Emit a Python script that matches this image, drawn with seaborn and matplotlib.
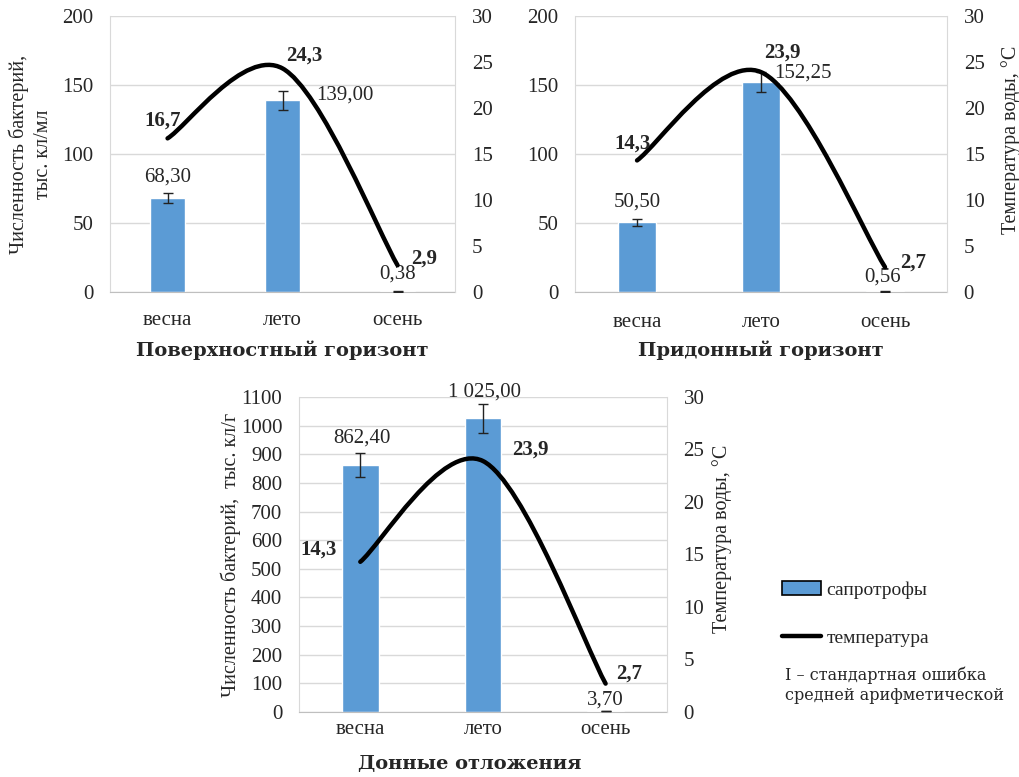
import matplotlib
matplotlib.use("Agg")
import matplotlib.pyplot as plt
from matplotlib.path import Path
from matplotlib.patches import PathPatch, Patch
from matplotlib.lines import Line2D
import seaborn as sns

# данные по сезонам
seasons = ["весна", "лето", "осень"]

surface_counts = [68.30, 139.00, 0.38]
surface_err = [3.5, 7.0, 0.3]
surface_temp = [16.7, 24.3, 2.9]

bottom_counts = [50.50, 152.25, 0.56]
bottom_err = [2.5, 7.5, 0.3]
bottom_temp = [14.3, 23.9, 2.7]

sediment_counts = [862.40, 1025.00, 3.70]
sediment_err = [43.0, 50.0, 1.0]
sediment_temp = [14.3, 23.9, 2.7]

sns.set_style("white")
plt.rcParams['font.family'] = ['Liberation Serif', 'DejaVu Serif']
plt.rcParams['font.size'] = 15

blue = "#5B9BD5"
grid_c = "#d9d9d9"


def fmt(v, d):
    return f"{v:,.{d}f}".replace(",", " ").replace(".", ",")


def smooth_path(xs, ys):
    # сглаженная линия как в Excel (кривые Безье)
    pts = list(zip(xs, ys))
    n = len(pts)
    verts = [pts[0]]
    codes = [Path.MOVETO]
    for i in range(n - 1):
        p0 = pts[max(i - 1, 0)]
        p1 = pts[i]
        p2 = pts[i + 1]
        p3 = pts[min(i + 2, n - 1)]
        c1 = (p1[0] + (p2[0] - p0[0]) / 6, p1[1] + (p2[1] - p0[1]) / 6)
        c2 = (p2[0] - (p3[0] - p1[0]) / 6, p2[1] - (p3[1] - p1[1]) / 6)
        verts += [c1, c2, p2]
        codes += [Path.CURVE4] * 3
    return Path(verts, codes)


def draw_panel(rect, counts, err, temp, ymax, ystep, title, title_xy,
               tick_pad, cnt_off, tmp_off, ylabel=None, ylabel_x=None,
               rlabel=None, rlabel_x=None):
    ax = fig.add_axes(rect)
    sns.barplot(x=seasons, y=counts, ax=ax, color=blue, saturation=1,
                width=0.3, errorbar=None, zorder=2)
    ax.errorbar(range(len(seasons)), counts, yerr=err, fmt='none',
                ecolor='#222222', elinewidth=1, capsize=3.5, zorder=3)
    ax.set_xlim(-0.5, len(seasons) - 0.5)
    ax.set_ylim(0, ymax)
    ax.set_yticks(range(0, ymax + 1, ystep))
    ax.yaxis.grid(True, color=grid_c, lw=1)
    ax.set_axisbelow(True)
    ax.set_xlabel("")
    ax.tick_params(axis='y', length=0, pad=12, labelsize=15)
    ax.tick_params(axis='x', which='major', length=0, pad=tick_pad, labelsize=15)
    ax.set_xticks([i - 0.5 for i in range(len(seasons) + 1)], minor=True)
    ax.tick_params(axis='x', which='minor', length=5, color='#bfbfbf', width=1)
    for s in ['top', 'right']:
        ax.spines[s].set_visible(False)
    ax.spines['left'].set_color(grid_c)
    ax.spines['bottom'].set_color('#bfbfbf')

    ax2 = ax.twinx()
    ax2.set_ylim(0, 30)
    ax2.set_yticks(range(0, 31, 5))
    ax2.tick_params(axis='y', length=0, pad=12, labelsize=15)
    for s in ['top', 'left', 'bottom']:
        ax2.spines[s].set_visible(False)
    ax2.spines['right'].set_color(grid_c)
    ax2.add_patch(PathPatch(smooth_path(range(len(seasons)), temp), fill=False,
                            lw=3.2, color='black', capstyle='round', zorder=4))

    for i, v in enumerate(counts):
        ax.annotate(fmt(v, 2), xy=(i, v), xytext=cnt_off[i], textcoords='offset pixels',
                    ha='center', va='center', fontsize=15, zorder=5)
    for i, v in enumerate(temp):
        ax2.annotate(fmt(v, 1), xy=(i, v), xytext=tmp_off[i], textcoords='offset pixels',
                     ha='center', va='center', fontsize=15, fontweight='bold', zorder=5)

    ax.text(title_xy[0], title_xy[1], title, transform=ax.transAxes, ha='center', va='center',
            fontsize=14, fontweight='bold', family='DejaVu Serif')
    if ylabel:
        ax.set_ylabel(ylabel, fontsize=14.5, linespacing=1.35)
        ax.yaxis.set_label_coords(ylabel_x, 0.5)
    else:
        ax.set_ylabel("")
    if rlabel:
        ax2.set_ylabel(rlabel, fontsize=14.5)
        ax2.yaxis.set_label_coords(rlabel_x, 0.55)
    return ax, ax2


fig = plt.figure(figsize=(10.19, 7.77), dpi=100)

draw_panel([0.108, 0.6242, 0.3386, 0.3552], surface_counts, surface_err, surface_temp,
           200, 50, "Поверхностный горизонт", (0.5, -0.21), 14,
           [(0, 21), (62, 5), (0, 17)], [(-5, 18), (22, 13), (27, 7)],
           ylabel="Численность бактерий,\nтыс. кл/мл", ylabel_x=-0.165)

draw_panel([0.5643, 0.6242, 0.3651, 0.3552], bottom_counts, bottom_err, bottom_temp,
           200, 50, "Придонный горизонт", (0.5, -0.21), 15,
           [(0, 20), (42, 9), (-2, 14)], [(-4, 17), (21, 20), (28, 5)],
           rlabel="Температура воды, °С", rlabel_x=1.145)

draw_panel([0.2934, 0.0837, 0.3611, 0.4054], sediment_counts, sediment_err, sediment_temp,
           1100, 100, "Донные отложения", (0.465, -0.165), 6,
           [(2, 27), (2, 26), (0, 11)], [(-42, 12), (47, 11), (24, 10)],
           ylabel="Численность бактерий,  тыс. кл/г", ylabel_x=-0.158,
           rlabel="Температура воды, °С", rlabel_x=1.122)

handles = [Patch(facecolor=blue, edgecolor='black', lw=1.2),
           Line2D([], [], color='black', lw=3.2)]
fig.legend(handles, ["сапротрофы", "температура"], loc='upper left',
           bbox_to_anchor=(0.767, 0.252), frameon=False, fontsize=14,
           labelspacing=1.55, handlelength=2.05, handletextpad=0.25,
           borderpad=0, borderaxespad=0)

fig.text(0.770, 0.118, "I – стандартная ошибка\nсредней арифметической",
         ha='left', va='center', fontsize=11.5, family='DejaVu Serif', linespacing=1.25)

fig.savefig("out.png", dpi=100)
